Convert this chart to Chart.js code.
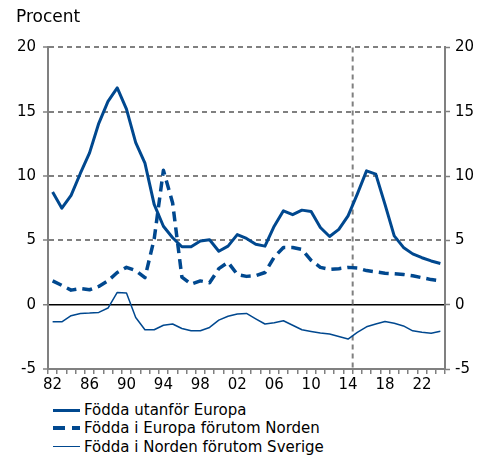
<!DOCTYPE html>
<html lang="sv">
<head>
<meta charset="utf-8">
<title>Procent</title>
<script src="https://cdn.jsdelivr.net/npm/chart.js@4.4.1/dist/chart.umd.min.js"></script>
<style>
    html, body { margin: 0; padding: 0; background: #fff; }
    #wrap { position: relative; width: 484px; height: 456px; }
    #chart { position: absolute; left: 0; top: 0; }
    .legend { position: absolute; left: 0; top: 401px; font: 15px "DejaVu Sans", sans-serif; color: #000; }
    .legend-row { display: flex; align-items: center; height: 18.3px; white-space: nowrap; }
    .legend-sample { width: 27px; margin-left: 53px; margin-right: 4px; }
</style>
</head>
<body>
<div id="wrap">
    <canvas id="chart" width="484" height="395"></canvas>
    <div class="legend" id="legend"></div>
</div>
<script>
// Kategorier (år) och etiketter
const years = ['1982', '1983', '1984', '1985', '1986', '1987', '1988', '1989', '1990', '1991',
    '1992', '1993', '1994', '1995', '1996', '1997', '1998', '1999', '2000', '2001',
    '2002', '2003', '2004', '2005', '2006', '2007', '2008', '2009', '2010', '2011',
    '2012', '2013', '2014', '2015', '2016', '2017', '2018', '2019', '2020', '2021',
    '2022', '2023', '2024'];
const xTickLabels = ['82', '86', '90', '94', '98', '02', '06', '10', '14', '18', '22'];
const yTicks = [-5, 0, 5, 10, 15, 20];
const markerYear = '2014';

const seriesNames = ['Födda utanför Europa', 'Födda i Europa förutom Norden', 'Födda i Norden förutom Sverige'];

// Procent
const utanforEuropa = [8.75, 7.5, 8.5, 10.2, 11.8, 14.1, 15.8, 16.85, 15.2, 12.6,
    11.0, 7.8, 6.1, 5.2, 4.5, 4.5, 4.95, 5.05, 4.15, 4.55,
    5.45, 5.15, 4.7, 4.55, 6.1, 7.3, 7.0, 7.35, 7.25, 6.0,
    5.3, 5.85, 6.9, 8.6, 10.4, 10.15, 7.8, 5.35, 4.45, 3.95,
    3.65, 3.4, 3.2];
const europaForutomNorden = [1.85, 1.5, 1.13, 1.25, 1.16, 1.42, 1.86, 2.5, 2.9, 2.65,
    2.1, 5.1, 10.45, 7.9, 2.15, 1.6, 1.85, 1.7, 2.8, 3.3,
    2.35, 2.2, 2.25, 2.5, 3.7, 4.45, 4.45, 4.3, 3.45, 2.9,
    2.75, 2.8, 2.9, 2.85, 2.65, 2.55, 2.45, 2.4, 2.35, 2.25,
    2.1, 1.95, 1.85];
const nordenForutomSverige = [-1.33, -1.33, -0.86, -0.68, -0.65, -0.6, -0.26, 0.95, 0.9, -1.0,
    -1.95, -1.95, -1.6, -1.5, -1.85, -2.03, -2.03, -1.77, -1.2, -0.9,
    -0.72, -0.68, -1.1, -1.5, -1.4, -1.25, -1.6, -1.95, -2.08, -2.2,
    -2.28, -2.48, -2.67, -2.15, -1.72, -1.5, -1.3, -1.45, -1.65, -2.03,
    -2.15, -2.22, -2.07];

const BLUE = '#00488f';
const GREY = '#808080';
const FONT = { family: '"DejaVu Sans", sans-serif', size: 15 };

// Streckad lodlinje mellan 2014 och 2015
const markerLine = {
    id: 'markerLine',
    beforeDatasetsDraw(chart) {
        const { ctx, chartArea, scales } = chart;
        const x = scales.x.getPixelForValue(years.indexOf(markerYear) + 0.5);
        ctx.save();
        ctx.strokeStyle = GREY;
        ctx.lineWidth = 2;
        ctx.setLineDash([5, 4]);
        ctx.beginPath();
        ctx.moveTo(x, chartArea.top);
        ctx.lineTo(x, chartArea.bottom);
        ctx.stroke();
        ctx.restore();
    }
};

const yAxisBase = {
    type: 'linear',
    min: yTicks[0],
    max: yTicks[yTicks.length - 1],
    afterBuildTicks: (scale) => { scale.ticks = yTicks.map(v => ({ value: v })); },
    border: { display: true, color: GREY, width: 2 },
    ticks: { color: '#000', font: FONT }
};

const chart = new Chart(document.getElementById('chart'), {
    type: 'line',
    data: {
        labels: years,
        datasets: [
            { label: seriesNames[0], data: utanforEuropa, borderColor: BLUE, borderWidth: 3 },
            { label: seriesNames[1], data: europaForutomNorden, borderColor: BLUE, borderWidth: 3.5, borderDash: [10, 6] },
            { label: seriesNames[2], data: nordenForutomSverige, borderColor: BLUE, borderWidth: 1.5 }
        ]
    },
    options: {
        responsive: false,
        animation: false,
        layout: { padding: { left: 16, right: 0, top: 4, bottom: 0 } },
        elements: {
            point: { radius: 0 },
            line: { tension: 0, borderJoinStyle: 'round', fill: false }
        },
        plugins: {
            legend: { display: false },
            tooltip: { enabled: false },
            title: {
                display: true,
                text: 'Procent',
                align: 'start',
                color: '#000',
                font: { family: FONT.family, size: 17, weight: 'normal' },
                padding: { top: 3, bottom: 20 }
            }
        },
        scales: {
            x: {
                type: 'category',
                offset: true,
                afterFit: (scale) => { scale.height = 26; },
                grid: { offset: true, drawOnChartArea: false, color: GREY, lineWidth: 1.5, tickLength: 5 },
                border: { display: true, color: GREY, width: 2 },
                ticks: {
                    autoSkip: false,
                    maxRotation: 0,
                    padding: 2,
                    color: '#000',
                    font: FONT,
                    callback: function (value) {
                        const short = this.getLabelForValue(value).slice(2);
                        return xTickLabels.includes(short) ? short : '';
                    }
                }
            },
            y: {
                ...yAxisBase,
                position: 'left',
                afterFit: (scale) => { scale.width = 32; },
                grid: {
                    color: (c) => (c.tick && c.tick.value === 0 ? '#000' : GREY),
                    lineWidth: (c) => (c.tick && c.tick.value === 0 ? 1.5 : 2),
                    tickColor: GREY,
                    tickWidth: 1.5,
                    tickLength: 5
                },
                border: {
                    display: true, color: GREY, width: 2,
                    dash: (c) => (c.tick && c.tick.value === 0 ? [] : [5, 4])
                },
                ticks: { color: '#000', font: FONT, padding: 7 }
            },
            y2: {
                ...yAxisBase,
                position: 'right',
                afterFit: (scale) => { scale.width = 39; },
                grid: { drawOnChartArea: false, color: GREY, tickWidth: 1.5, tickLength: 5 },
                ticks: { color: '#000', font: FONT, padding: 5 }
            }
        }
    },
    plugins: [markerLine]
});

// Teckenförklaring under diagrammet
const legendSamples = [
    `height:3px;background:${BLUE}`,
    `height:4px;background:repeating-linear-gradient(to right, ${BLUE} 0 12px, transparent 12px 19px)`,
    `height:1.5px;background:${BLUE}`
];
const legendEl = document.getElementById('legend');
seriesNames.forEach((name, i) => {
    const row = document.createElement('div');
    row.className = 'legend-row';
    row.innerHTML = `<span class="legend-sample" style="${legendSamples[i]}"></span><span>${name}</span>`;
    legendEl.appendChild(row);
});
</script>
</body>
</html>
